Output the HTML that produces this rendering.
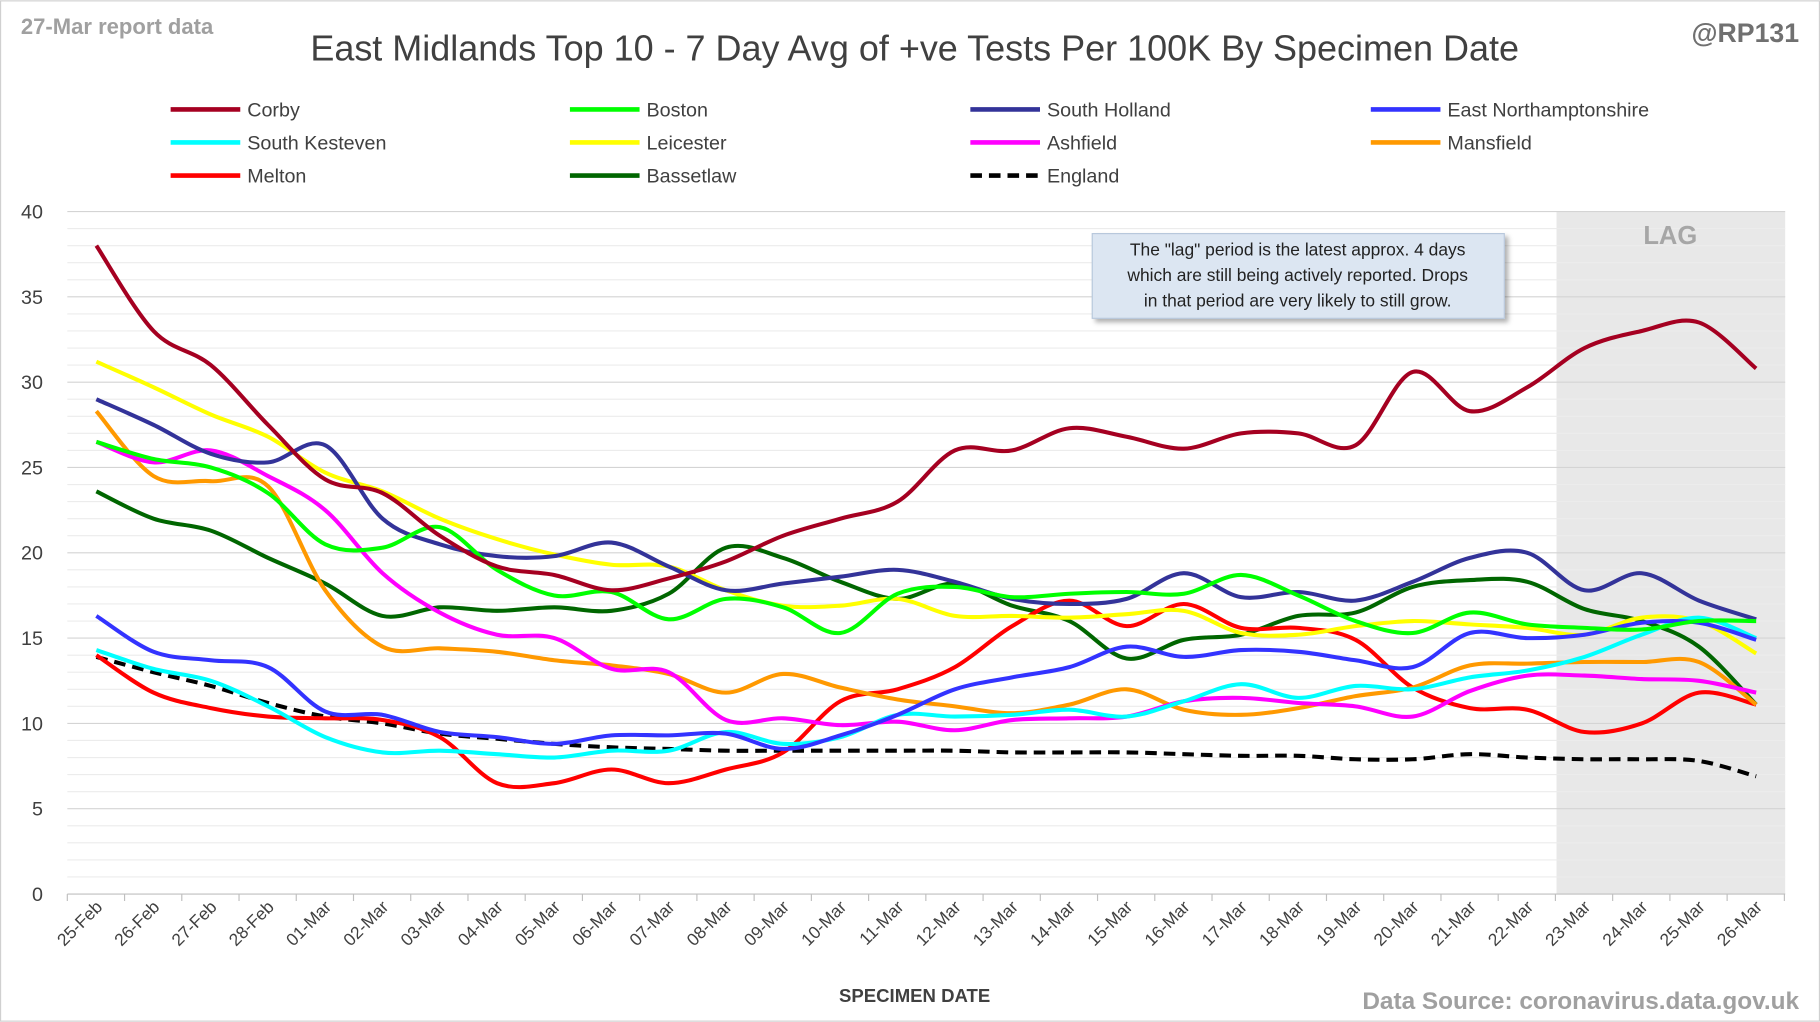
<!DOCTYPE html>
<html><head><meta charset="utf-8"><style>
html,body{margin:0;padding:0;background:#fff;}
svg{display:block;font-family:"Liberation Sans",sans-serif;}
</style></head><body>
<svg id="s" width="1820" height="1022" viewBox="0 0 1568 880" xmlns="http://www.w3.org/2000/svg">
<defs><filter id="sh" x="-10%" y="-10%" width="130%" height="140%"><feDropShadow dx="3" dy="3" stdDeviation="2" flood-color="#000" flood-opacity="0.3"/></filter></defs>
<rect x="0.5" y="0.5" width="1567" height="879" fill="#fff" stroke="#d0d0d0"/>
<rect x="1341" y="182" width="197" height="588" fill="#e8e8e8"/>
<g id="grid"></g>
<text x="1439" y="210" text-anchor="middle" font-size="22" font-weight="bold" fill="#a6a6a6">LAG</text>
<g id="series" fill="none" stroke-width="3.5"></g>
<text x="18" y="29" font-size="19" font-weight="bold" fill="#a0a0a0">27-Mar report data</text>
<text x="788" y="52" text-anchor="middle" font-size="31" fill="#404040">East Midlands Top 10 - 7 Day Avg of +ve Tests Per 100K By Specimen Date</text>
<text x="1550" y="36" text-anchor="end" font-size="23" font-weight="bold" fill="#707070">@RP131</text>
<g id="legend" font-size="17" fill="#404040"></g>
<rect x="941" y="201" width="355" height="73" fill="#dce6f2" stroke="#b8c8dc" filter="url(#sh)"/>
<g font-size="15" fill="#222" text-anchor="middle">
<text x="1118" y="220">The "lag" period is the latest approx. 4 days</text>
<text x="1118" y="242">which are still being actively reported.  Drops</text>
<text x="1118" y="264">in that period are very likely to still grow.</text>
</g>
<text x="788" y="863" text-anchor="middle" font-size="16" font-weight="bold" fill="#404040">SPECIMEN DATE</text>
<text x="1550" y="869" text-anchor="end" font-size="21" font-weight="bold" fill="#a0a0a0">Data Source: coronavirus.data.gov.uk</text>
</svg>
<script>
const NS="http://www.w3.org/2000/svg";
function el(t,a,p,txt){const e=document.createElementNS(NS,t);for(const k in a)e.setAttribute(k,a[k]);if(txt!==undefined)e.textContent=txt;p.appendChild(e);return e;}
const X=i=>83+i*49.31, Y=v=>770-v*14.7;
const g=document.getElementById('grid');
for(let v=1;v<=40;v++){el('line',{x1:58,x2:1538,y1:Y(v),y2:Y(v),stroke:v%5==0?'#d4d4d4':'#ececec','stroke-width':1},g);}
el('line',{x1:58,x2:1538,y1:770,y2:770,stroke:'#bfbfbf','stroke-width':1},g);
for(let v=0;v<=40;v+=5)el('text',{x:37,y:Y(v)+6,'text-anchor':'end','font-size':17,fill:'#404040'},g,String(v));
const dates=['25-Feb','26-Feb','27-Feb','28-Feb','01-Mar','02-Mar','03-Mar','04-Mar','05-Mar','06-Mar','07-Mar','08-Mar','09-Mar','10-Mar','11-Mar','12-Mar','13-Mar','14-Mar','15-Mar','16-Mar','17-Mar','18-Mar','19-Mar','20-Mar','21-Mar','22-Mar','23-Mar','24-Mar','25-Mar','26-Mar'];
for(let i=0;i<=30;i++){const x=58+i*49.31;el('line',{x1:x,x2:x,y1:770,y2:776,stroke:'#bfbfbf'},g);}
dates.forEach((d,i)=>{const x=X(i)+6,y=782;el('text',{x:x,y:y,'text-anchor':'end','font-size':15,fill:'#404040',transform:`rotate(-45 ${x} ${y})`},g,d);});
const S=[
['Corby','#a50021',[38,33,31,27.5,24.3,23.5,21,19.2,18.7,17.8,18.5,19.5,21,22,23,26,26,27.3,26.8,26.1,27,27,26.3,30.6,28.3,29.7,32,33,33.5,30.8]],
['Boston','#00ff00',[26.5,25.5,25,23.5,20.5,20.3,21.5,19,17.5,17.7,16.1,17.3,16.8,15.3,17.6,18,17.4,17.6,17.7,17.6,18.7,17.5,16,15.3,16.5,15.8,15.6,15.5,16,16]],
['South Holland','#333399',[29,27.5,25.8,25.3,26.3,22,20.5,19.8,19.8,20.6,19.2,17.8,18.2,18.6,19,18.3,17.3,17,17.3,18.8,17.4,17.7,17.2,18.3,19.7,20,17.8,18.8,17.2,16.1]],
['East Northamptonshire','#3333ff',[16.3,14.2,13.7,13.3,10.7,10.5,9.5,9.2,8.8,9.3,9.3,9.4,8.5,9.3,10.5,12,12.7,13.3,14.5,13.9,14.3,14.2,13.7,13.3,15.3,15,15.2,15.9,15.9,14.9]],
['South Kesteven','#00ffff',[14.3,13.2,12.5,11,9.2,8.3,8.4,8.2,8,8.4,8.4,9.5,8.8,9.2,10.5,10.4,10.5,10.8,10.4,11.3,12.3,11.5,12.2,12,12.7,13.1,13.9,15.2,16.2,15]],
['Leicester','#ffff00',[31.2,29.7,28.1,26.8,24.7,23.6,22,20.8,19.9,19.3,19.2,17.8,16.9,16.9,17.3,16.3,16.3,16.2,16.4,16.6,15.3,15.2,15.7,16,15.8,15.6,15.2,16.2,16,14.1]],
['Ashfield','#ff00ff',[26.5,25.3,26,24.5,22.5,18.8,16.5,15.2,15,13.2,13,10.2,10.3,9.9,10.1,9.6,10.2,10.3,10.4,11.3,11.5,11.2,11,10.4,11.9,12.8,12.8,12.6,12.5,11.8]],
['Mansfield','#ff9900',[28.3,24.5,24.2,23.9,17.8,14.5,14.4,14.2,13.7,13.4,12.9,11.8,12.9,12.1,11.4,11,10.6,11.1,12,10.8,10.5,10.9,11.6,12.1,13.4,13.5,13.6,13.6,13.6,11.1]],
['Melton','#ff0000',[14,11.8,10.9,10.4,10.3,10.2,9.2,6.5,6.5,7.3,6.5,7.3,8.3,11.3,12,13.3,15.7,17.2,15.7,17,15.6,15.6,14.9,12.1,10.9,10.8,9.5,10,11.8,11.1]],
['Bassetlaw','#006600',[23.6,22,21.3,19.7,18.2,16.3,16.8,16.6,16.8,16.6,17.6,20.3,19.7,18.3,17.3,18.2,16.9,16,13.8,14.9,15.2,16.3,16.5,18,18.4,18.3,16.7,16,14.5,11.1]],
['England','#000000',[13.9,13,12.2,11.2,10.4,10,9.4,9.1,8.8,8.6,8.5,8.4,8.4,8.4,8.4,8.4,8.3,8.3,8.3,8.2,8.1,8.1,7.9,7.9,8.2,8.0,7.9,7.9,7.8,6.9]]
];
function path(vals){const p=vals.map((v,i)=>[X(i),Y(v)]);let d=`M${p[0][0]},${p[0][1]}`;
for(let i=0;i<p.length-1;i++){const p0=p[Math.max(0,i-1)],p1=p[i],p2=p[i+1],p3=p[Math.min(p.length-1,i+2)];
const c1=[p1[0]+(p2[0]-p0[0])/6,p1[1]+(p2[1]-p0[1])/6],c2=[p2[0]-(p3[0]-p1[0])/6,p2[1]-(p3[1]-p1[1])/6];
d+=` C${c1[0].toFixed(1)},${c1[1].toFixed(1)} ${c2[0].toFixed(1)},${c2[1].toFixed(1)} ${p2[0].toFixed(1)},${p2[1].toFixed(1)}`;}return d;}
const sg=document.getElementById('series'),lg=document.getElementById('legend');
const order=[10,9,8,7,6,5,4,3,2,1,0];
order.forEach(k=>{const s=S[k];const a={d:path(s[2]),stroke:s[1]};if(s[0]=='England')a['stroke-dasharray']='10 6';el('path',a,sg);});
S.forEach((s,k)=>{const col=k%4,row=Math.floor(k/4);const lx=[147,491,836,1181][col],ly=94+row*28.5;
const a={x1:lx,x2:lx+60,y1:ly,y2:ly,stroke:s[1],'stroke-width':4};if(s[0]=='England')a['stroke-dasharray']='10 6';el('line',a,lg);
el('text',{x:lx+66,y:ly+6},lg,s[0]);});
</script>
</body></html>
